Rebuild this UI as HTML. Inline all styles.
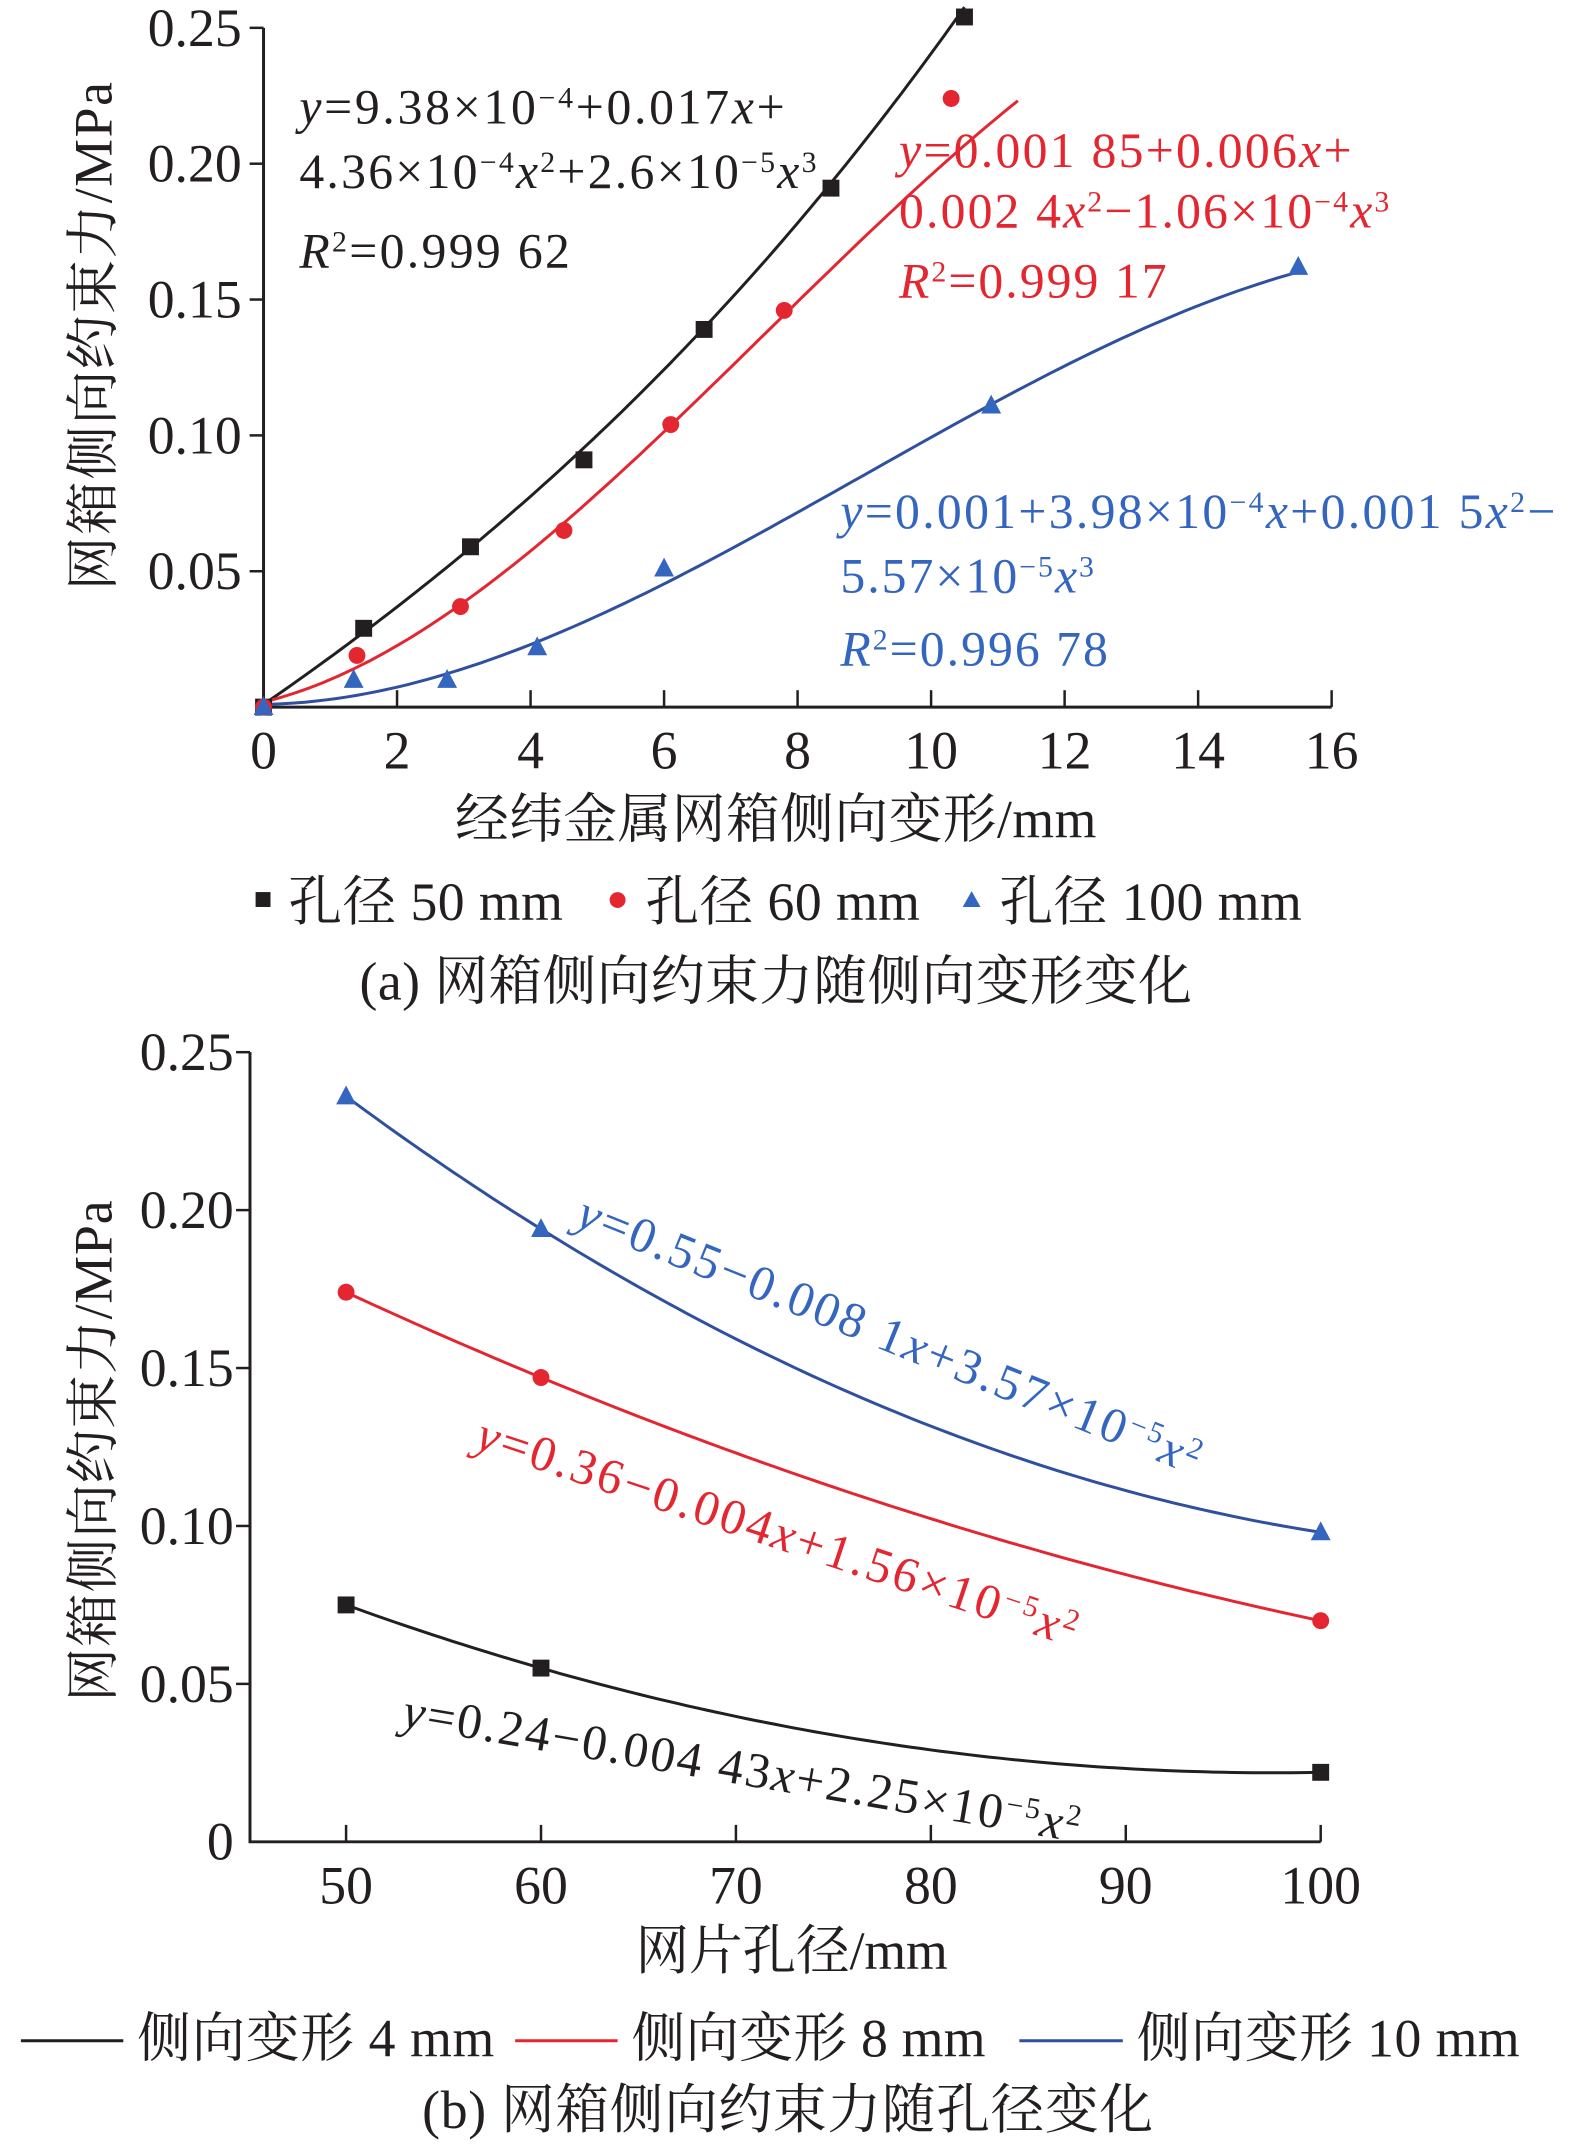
<!DOCTYPE html>
<html><head><meta charset="utf-8"><style>
html,body{margin:0;padding:0;background:#fff;}
svg{display:block;font-family:"Liberation Serif","Noto Serif CJK SC","Noto Sans CJK SC",serif;}
.t{font-size:54px;fill:#231f20;}
.eq{font-size:50px;}
.i{font-style:italic;}
</style></head><body>
<svg id="svg" width="1575" height="2152" viewBox="0 0 1575 2152">
<g transform="scale(0.9945)">
<g id="chartA"></g>
<g id="chartB"></g>

<text class="t" x="780" y="842" text-anchor="middle" textLength="645">经纬金属网箱侧向变形/mm</text>
<text class="t" transform="translate(112,338) rotate(-90)" text-anchor="middle" textLength="511">网箱侧向约束力/MPa</text>
<g>
<rect x="257" y="897" width="15" height="15" fill="#231f20"/>
<text class="t" x="290" y="925" textLength="276">孔径 50 mm</text>
<circle cx="621" cy="905" r="8" fill="#e3262f"/>
<text class="t" x="649" y="925" textLength="276">孔径 60 mm</text>
<path d="M977,896 L986,912 L968,912 Z" fill="#3466c0"/>
<text class="t" x="1005" y="925" textLength="304">孔径 100 mm</text>
</g>
<text class="t" x="780" y="1005" text-anchor="middle" textLength="837">(a) 网箱侧向约束力随侧向变形变化</text>

<g class="eq" fill="#231f20">
<text x="301" y="124" textLength="488"><tspan class="i">y</tspan>=9.38×10<tspan baseline-shift="super" font-size="30">−4</tspan>+0.017<tspan class="i">x</tspan>+</text>
<text x="301" y="189" textLength="520">4.36×10<tspan baseline-shift="super" font-size="30">−4</tspan><tspan class="i">x</tspan><tspan baseline-shift="super" font-size="30">2</tspan>+2.6×10<tspan baseline-shift="super" font-size="30">−5</tspan><tspan class="i">x</tspan><tspan baseline-shift="super" font-size="30">3</tspan></text>
<text x="301" y="269" textLength="272"><tspan class="i">R</tspan><tspan baseline-shift="super" font-size="30">2</tspan>=0.999 62</text>
</g>
<g class="eq" fill="#e3262f">
<text x="904" y="168" textLength="455"><tspan class="i">y</tspan>=0.001 85+0.006<tspan class="i">x</tspan>+</text>
<text x="904" y="229" textLength="493">0.002 4<tspan class="i">x</tspan><tspan baseline-shift="super" font-size="30">2</tspan>−1.06×10<tspan baseline-shift="super" font-size="30">−4</tspan><tspan class="i">x</tspan><tspan baseline-shift="super" font-size="30">3</tspan></text>
<text x="904" y="299" textLength="269"><tspan class="i">R</tspan><tspan baseline-shift="super" font-size="30">2</tspan>=0.999 17</text>
</g>
<g class="eq" fill="#3466c0">
<text x="845" y="531" textLength="719"><tspan class="i">y</tspan>=0.001+3.98×10<tspan baseline-shift="super" font-size="30">−4</tspan><tspan class="i">x</tspan>+0.001 5<tspan class="i">x</tspan><tspan baseline-shift="super" font-size="30">2</tspan>−</text>
<text x="845" y="596" textLength="255">5.57×10<tspan baseline-shift="super" font-size="30">−5</tspan><tspan class="i">x</tspan><tspan baseline-shift="super" font-size="30">3</tspan></text>
<text x="845" y="669" textLength="269"><tspan class="i">R</tspan><tspan baseline-shift="super" font-size="30">2</tspan>=0.996 78</text>
</g>

<text class="t" x="796" y="1980" text-anchor="middle" textLength="314">网片孔径/mm</text>
<text class="t" transform="translate(112,1459) rotate(-90)" text-anchor="middle" textLength="504">网箱侧向约束力/MPa</text>
<g>
<line x1="21" y1="2052" x2="124" y2="2052" stroke="#231f20" stroke-width="3"/>
<text class="t" x="138" y="2068" textLength="359">侧向变形 4 mm</text>
<line x1="518" y1="2052" x2="621" y2="2052" stroke="#e3262f" stroke-width="3"/>
<text class="t" x="635" y="2068" textLength="356">侧向变形 8 mm</text>
<line x1="1025" y1="2052" x2="1129" y2="2052" stroke="#2f4f9f" stroke-width="3"/>
<text class="t" x="1143" y="2068" textLength="385">侧向变形 10 mm</text>
</g>
<text class="t" x="792" y="2140" text-anchor="middle" textLength="735">(b) 网箱侧向约束力随孔径变化</text>

<g class="eq" fill="#3466c0" transform="translate(577,1232) rotate(22)">
<text x="0" y="0" textLength="671"><tspan class="i">y</tspan>=0.55−0.008 1<tspan class="i">x</tspan>+3.57×10<tspan baseline-shift="super" font-size="30">−5</tspan><tspan class="i">x</tspan><tspan baseline-shift="super" font-size="30">2</tspan></text>
</g>
<g class="eq" fill="#e3262f" transform="translate(476,1456) rotate(18.4)">
<text x="0" y="0" textLength="633"><tspan class="i">y</tspan>=0.36−0.004<tspan class="i">x</tspan>+1.56×10<tspan baseline-shift="super" font-size="30">−5</tspan><tspan class="i">x</tspan><tspan baseline-shift="super" font-size="30">2</tspan></text>
</g>
<g class="eq" fill="#231f20" transform="translate(403,1736) rotate(9.7)">
<text x="0" y="0" textLength="690"><tspan class="i">y</tspan>=0.24−0.004 43<tspan class="i">x</tspan>+2.25×10<tspan baseline-shift="super" font-size="30">−5</tspan><tspan class="i">x</tspan><tspan baseline-shift="super" font-size="30">2</tspan></text>
</g>
</g>
</svg>
<script>
const aXTicks = [0,2,4,6,8,10,12,14,16];
const aYTicks = [0.05,0.10,0.15,0.20,0.25];
const aYTickLabels = ["0.05","0.10","0.15","0.20","0.25"];
const a50x = [0,1.5,3.1,4.8,6.6,8.5,10.5];
const a50y = [0,0.029,0.059,0.091,0.139,0.191,0.254];
const a60x = [0,1.4,2.95,4.5,6.1,7.8,10.3];
const a60y = [0,0.019,0.037,0.065,0.104,0.146,0.224];
const a100x = [0,1.35,2.75,4.1,6.0,10.9,15.5];
const a100y = [0,0.010,0.010,0.022,0.051,0.111,0.162];
const fit50 = [9.38e-4,0.017,4.36e-4,2.6e-5];
const fit60 = [0.00185,0.006,0.0024,-1.06e-4];
const fit100 = [0.001,3.98e-4,0.0015,-5.57e-5];
const fitRanges = [[0,10.5],[0,11.3],[0,15.5]];
const bX = [50,60,100];
const b4 = [0.075,0.055,0.022];
const b8 = [0.174,0.147,0.070];
const b10 = [0.236,0.194,0.098];
const bXTicks = [50,60,70,80,90,100];
const bYTicks = [0,0.05,0.10,0.15,0.20,0.25];
const bYTickLabels = ["0","0.05","0.10","0.15","0.20","0.25"];

const NS="http://www.w3.org/2000/svg";
function mk(parent,tag,attrs){const e=document.createElementNS(NS,tag);for(const k in attrs)e.setAttribute(k,attrs[k]);parent.appendChild(e);return e;}
const K="#231f20",R="#e3262f",B="#3466c0",BL="#2f4f9f";

const A=document.getElementById('chartA');
const ax=v=>265+(v/16)*(1339-265);
const ay=v=>711-(v/0.25)*(711-28);
let e;
e=mk(A,'path',{d:`M${ax(0)},${ay(0.25)} L${ax(0)},${ay(0)} L${ax(16)},${ay(0)}`,fill:'none',stroke:K,'stroke-width':3});


aXTicks.forEach(t=>{
  if(t>0){e=mk(A,'line',{x1:ax(t),y1:ay(0),x2:ax(t),y2:ay(0)-17,stroke:K,'stroke-width':2.5});
  
  }
  e=mk(A,'text',{x:ax(t),y:773,'text-anchor':'middle',class:'t'});e.textContent=t;
  
  
});
aYTicks.forEach((t,i)=>{
  e=mk(A,'line',{x1:ax(0),y1:ay(t),x2:ax(0)-14,y2:ay(t),stroke:K,'stroke-width':2.5});
  
  
  e=mk(A,'text',{x:243,y:ay(t)+18,'text-anchor':'end',class:'t'});e.textContent=aYTickLabels[i];
  
  
});
function poly(c,x){return c[0]+c[1]*x+c[2]*x*x+c[3]*x*x*x;}
[[fit50,K,'fit-curve-50'],[fit60,R,'fit-curve-60'],[fit100,BL,'fit-curve-100']].forEach(([c,col,name],i)=>{
  const [x0,x1]=fitRanges[i];let d='';
  for(let k=0;k<=100;k++){const x=x0+(x1-x0)*k/100;d+=(k?'L':'M')+ax(x).toFixed(1)+','+ay(poly(c,x)).toFixed(1);}
  e=mk(A,'path',{d:d,fill:'none',stroke:col,'stroke-width':3});
  
  
});
function sq(g,x,y,col){return mk(g,'rect',{x:x-8.5,y:y-8.5,width:17,height:17,fill:col});}
function ci(g,x,y,col){return mk(g,'circle',{cx:x,cy:y,r:8.5,fill:col});}
function tr(g,x,y,col){return mk(g,'path',{d:`M${x},${y-11} L${x+10},${y+8} L${x-10},${y+8} Z`,fill:col});}
a50x.forEach((x,i)=>{e=sq(A,ax(x),ay(a50y[i]),K);
  
  });
a60x.forEach((x,i)=>{e=ci(A,ax(x),ay(a60y[i]),R);
  
  });
a100x.forEach((x,i)=>{e=tr(A,ax(x),ay(a100y[i]),B);
  
  });

const Bg=document.getElementById('chartB');
const bx=v=>348+(v-50)/50*(1328-348);
const by=v=>1852-(v/0.25)*(1852-1058);
e=mk(Bg,'path',{d:`M${bx(45.07)},${by(0.25)} L${bx(45.07)},${by(0)} L${bx(100)},${by(0)}`,fill:'none',stroke:K,'stroke-width':3});


bXTicks.forEach(t=>{
  e=mk(Bg,'line',{x1:bx(t),y1:by(0),x2:bx(t),y2:by(0)-17,stroke:K,'stroke-width':2.5});
  
  
  e=mk(Bg,'text',{x:bx(t),y:1914,'text-anchor':'middle',class:'t'});e.textContent=t;
  
  
});
bYTicks.forEach((t,i)=>{
  if(t>0){e=mk(Bg,'line',{x1:bx(45.07),y1:by(t),x2:bx(45.07)-14,y2:by(t),stroke:K,'stroke-width':2.5});
  
  }
  e=mk(Bg,'text',{x:235,y:by(t)+18,'text-anchor':'end',class:'t'});e.textContent=bYTickLabels[i];
  
  
});
function lag(ys,x){let s=0;for(let i=0;i<3;i++){let p=ys[i];for(let j=0;j<3;j++)if(j!==i)p*=(x-bX[j])/(bX[i]-bX[j]);s+=p;}return s;}
[[b4,K,'curve-4mm'],[b8,R,'curve-8mm'],[b10,BL,'curve-10mm']].forEach(([ys,col,name])=>{
  let d='';for(let k=0;k<=100;k++){const x=50+50*k/100;d+=(k?'L':'M')+bx(x).toFixed(1)+','+by(lag(ys,x)).toFixed(1);}
  e=mk(Bg,'path',{d:d,fill:'none',stroke:col,'stroke-width':3});
  
  
});
bX.forEach((x,i)=>{
  e=sq(Bg,bx(x),by(b4[i]),K);
  
  
  e=ci(Bg,bx(x),by(b8[i]),R);
  
  
  e=tr(Bg,bx(x),by(b10[i]),B);
  
  
});
</script>
</body></html>
